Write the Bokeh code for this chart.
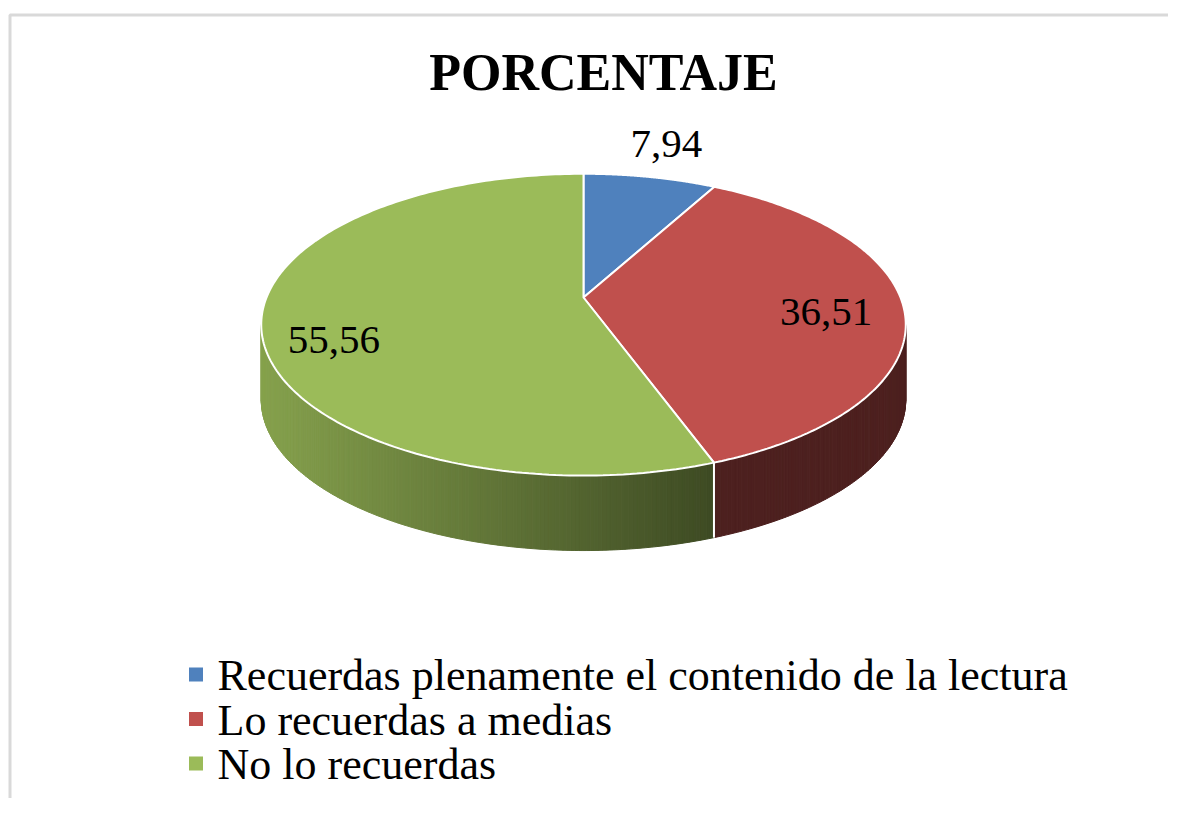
import numpy as np
from bokeh.plotting import figure
from bokeh.models import Range1d
from bokeh.core.properties import value
from bokeh.embed import file_html
from bokeh.resources import INLINE

# ---------------- data ----------------
title_text = "PORCENTAJE"
categories = ["Recuerdas plenamente el contenido de la lectura",
              "Lo recuerdas a medias",
              "No lo recuerdas"]
percent = [7.94, 36.51, 55.56]
labels = ["7,94", "36,51", "55,56"]
colors = ["#4F81BD", "#C0504D", "#9BBB59"]

# ---------------- style / geometry ----------------
CX, CY = 583.0, 297.0      # pie centre (page pixels)
A, B, K = 317.0, 146.0, 0.18  # perspective ellipse parameters
DEPTH = 75.0
LABEL_R = [1.30, 0.76, 0.78]
LABEL_DY = [-4.0, 6.0, 22.0]
LABEL_FS = 41
SERIF = value("Liberation Serif")


def proj(theta, r=1.0):
    u = r * np.sin(theta)
    v = r * np.cos(theta)
    w = 1.0 + K * v
    return CX + A * u / w, CY - B * v / w


def shade(hexcol, f):
    h = hexcol.lstrip("#")
    rgb = [int(h[i:i + 2], 16) for i in (0, 2, 4)]
    return "#%02x%02x%02x" % tuple(int(round(c * f)) for c in rgb)


p = figure(width=1168, height=798, output_backend="svg", toolbar_location=None,
           x_range=Range1d(0, 1168), y_range=Range1d(798, 0),
           min_border=0, outline_line_color=None)
p.axis.visible = False
p.grid.visible = False
p.background_fill_color = "white"
p.border_fill_color = "white"

# chart frame (left and top edges visible)
p.line([9.5, 9.5, 1168], [798, 14.5, 14.5], line_color="#d9d9d9", line_width=3)

total = sum(percent)
fr = np.cumsum([0.0] + [v / total for v in percent])
starts = fr[:-1] * 2 * np.pi
ends = fr[1:] * 2 * np.pi

# visible side range (silhouette of the perspective ellipse)
th_r = np.arccos(-K)
th_l = 2 * np.pi - th_r
x_left = proj(th_l)[0]

# ---- side strips ----
sx, sy, sc = [], [], []
for i in range(len(percent)):
    a0 = max(starts[i], th_r)
    a1 = min(ends[i], th_l)
    if a1 <= a0:
        continue
    n = max(2, int((a1 - a0) / 0.01))
    ts = np.linspace(a0, a1, n + 1)
    for j in range(n):
        x0, y0 = proj(ts[j])
        x1, y1 = proj(ts[j + 1])
        xm = 0.5 * (x0 + x1)
        f = np.clip(0.86 - (xm - x_left) * 0.46 / 450.0, 0.40, 1.0)
        sx.append([x0, x1, x1, x0])
        sy.append([y0, y1, y1 + DEPTH, y0 + DEPTH])
        sc.append(shade(colors[i], f))
p.patches(sx, sy, fill_color=sc, line_color=sc, line_width=1)

# white vertical edges on the side at slice boundaries
for b in fr[1:-1] * 2 * np.pi:
    if th_r < b < th_l:
        bx, by = proj(b)
        p.line([bx, bx], [by, by + DEPTH], line_color="white", line_width=2)

# ---- top faces ----
tx, ty = [], []
for i in range(len(percent)):
    ts = np.linspace(starts[i], ends[i], 200)
    xs, ys = proj(ts)
    tx.append([CX] + list(xs))
    ty.append([CY] + list(ys))
p.patches(tx, ty, fill_color=colors, line_color="white", line_width=2)

# ---- data labels ----
mids = 0.5 * (starts + ends)
lx, ly = [], []
for i, m in enumerate(mids):
    x, y = proj(m, LABEL_R[i])
    lx.append(x)
    ly.append(y + LABEL_DY[i])
p.text(lx, ly, text=labels, text_font=SERIF, text_font_size=f"{LABEL_FS}px",
       text_align="center", text_baseline="middle", text_color="black")

# ---- title ----
p.text([603], [72], text=[title_text], text_font=SERIF, text_font_size="52px",
       text_font_style="bold", text_align="center", text_baseline="middle",
       text_color="black")

# ---- legend ----
rows = [674 + 44.5 * i for i in range(len(categories))]
p.scatter([195.5] * len(categories), rows, marker="square", size=14,
          fill_color=colors, line_color=None)
p.text([217] * len(categories), [r + 1 for r in rows], text=categories,
       text_font=SERIF, text_font_size="44px", text_align="left",
       text_baseline="middle", text_color="black")

open("out.html", "w").write(file_html(p, INLINE))
